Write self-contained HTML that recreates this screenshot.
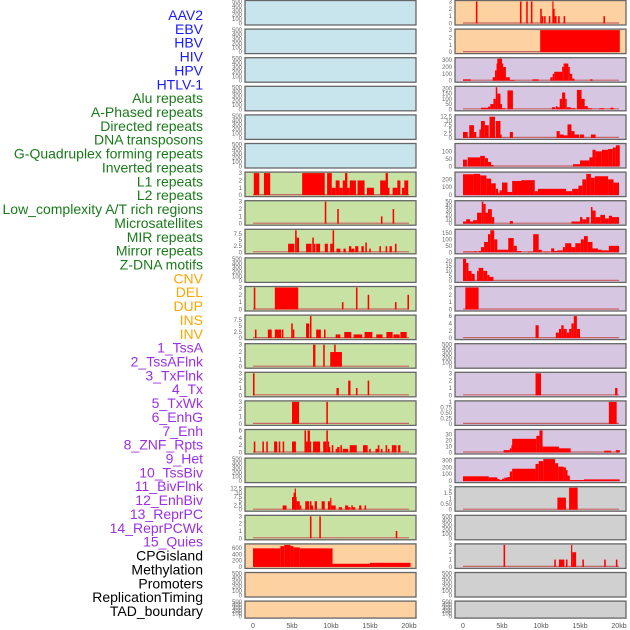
<!DOCTYPE html>
<html><head><meta charset="utf-8"><style>
html,body{margin:0;padding:0;background:#fff;width:630px;height:630px;overflow:hidden}
svg{display:block}
</style></head><body>
<svg id="chart" width="630" height="630" xmlns="http://www.w3.org/2000/svg" font-family="Liberation Sans, sans-serif"></svg>
<script>
// ---- data (segments: [startKb, endKb, value]) ----
const trackLabels = ["AAV2","EBV","HBV","HIV","HPV","HTLV-1","Alu repeats","A-Phased repeats","Directed repeats","DNA transposons","G-Quadruplex forming repeats","Inverted repeats","L1 repeats","L2 repeats","Low_complexity A/T rich regions","Microsatellites","MIR repeats","Mirror repeats","Z-DNA motifs","CNV","DEL","DUP","INS","INV","1_TssA","2_TssAFlnk","3_TxFlnk","4_Tx","5_TxWk","6_EnhG","7_Enh","8_ZNF_Rpts","9_Het","10_TssBiv","11_BivFlnk","12_EnhBiv","13_ReprPC","14_ReprPCWk","15_Quies","CPGisland","Methylation","Promoters","ReplicationTiming","TAD_boundary"];
const labelGroups = [6,13,5,15,5];
const xTickKb = [0,5,10,15,20];
const xTickLabels = ["0","5kb","10kb","15kb","20kb"];
const t500 = [0,100,200,300,400,500];
const t3 = [0,1,2,3];
const t75 = [0,2.5,5,7.5];
const t6 = [0,2,4,6];
const t125 = [0,2.5,5,7.5,10,12.5];

const L06 = [[0.1,0.8,3],[1.4,2.2,3],[6.3,9.2,3],[9.5,10.1,3],[10.1,10.6,1],[10.6,11.1,2],[11.1,11.5,1],[11.5,12.0,2],[11.8,12.1,3],[12.0,12.4,1],[12.4,13.2,2],[13.4,14.3,2],[14.6,15.5,1],[16.3,17.1,2],[17.0,17.3,3],[17.2,17.5,1],[17.9,18.5,1],[18.5,18.9,2],[19.1,19.4,1],[19.4,19.9,2]];
const L07 = [[9.2,9.4,3],[10.8,11.0,2],[16.4,16.6,1],[17.9,18.1,2]];
const L08 = [[4.5,5.3,3.5],[5.4,5.6,9],[5.6,5.9,6],[6.8,7.5,3.5],[7.6,7.8,6],[7.8,8.0,3.5],[8.1,8.6,3.5],[9.2,9.6,3.5],[9.9,10.2,3.5],[10.2,10.4,9],[10.7,11.2,1.5],[11.6,11.9,1.5],[12.3,12.6,2.5],[12.6,13.0,1.5],[13.1,13.5,2.5],[13.9,14.2,2.5],[14.4,14.6,4],[14.9,15.1,1.5],[16.2,16.4,2.5],[17.0,17.2,2.5],[17.5,17.8,2.5],[18.2,18.4,3.5]];
const L10 = [[0.1,0.3,3],[2.8,5.8,3],[11.4,11.6,1],[13.2,13.4,3],[14.7,14.9,2],[18.2,18.4,1],[19.8,20.0,2]];
const L11 = [[0.25,0.45,3.5],[1.9,2.4,3.5],[2.8,3.6,3.5],[3.7,3.9,3.5],[4.9,5.1,6],[5.1,5.3,3.5],[6.8,7.2,6],[7.3,7.5,9],[8.1,8.7,3.5],[9.1,9.3,3.5],[10.6,11.2,1.5],[11.7,12.6,2.5],[12.9,14.0,1.5],[14.3,15.3,2.5],[15.8,16.6,1.5],[17.1,17.9,2.5],[18.0,18.8,1.5],[18.9,19.7,2.5]];
const L12 = [[7.7,8.0,3],[9.0,9.2,3],[9.9,11.4,2],[10.4,10.6,3]];
const L13 = [[0.0,0.2,3],[10.7,11.0,1],[12.2,12.5,2],[13.2,13.4,1],[14.7,14.9,2]];
const L14 = [[5.0,5.9,3],[9.4,9.6,3]];
const L15 = [[0.1,0.3,3],[1.2,1.4,3],[1.7,1.9,3],[2.7,3.1,3],[3.3,3.5,3],[3.8,4.0,3],[5.0,5.5,3],[6.6,6.8,6],[6.8,7.0,3],[7.0,7.3,6],[7.3,7.4,3],[7.7,8.6,3],[9.0,9.4,3],[9.4,9.6,6],[9.6,9.7,3],[9.7,9.9,1.5],[10.1,10.3,2],[10.6,10.8,1],[10.8,11.1,1.5],[11.2,11.4,2],[11.5,12.2,1],[12.4,13.3,2],[14.1,14.7,2],[14.9,15.1,1],[15.7,16.2,1],[16.0,16.2,2],[16.4,16.6,1],[17.0,17.2,2],[17.3,17.5,1],[17.8,18.0,2],[18.0,18.4,2],[18.6,18.9,2]];
const L17 = [[3.8,4.3,2.5],[5.0,5.6,7.5],[5.2,5.5,10],[5.35,5.5,12.5],[5.6,6.0,5],[6.0,6.2,2.5],[6.7,7.2,5],[7.3,7.5,5],[7.5,7.7,2.5],[7.9,8.2,5],[8.8,9.2,5],[9.6,9.9,5],[9.9,10.05,7],[10.05,10.6,2.5],[11.0,11.4,1.5],[11.8,12.2,2.5],[12.2,12.5,1.5],[12.6,12.8,2.5],[12.8,13.1,1.5],[13.6,13.9,2.5],[14.3,14.5,2.5]];
const L18 = [[7.3,7.5,3],[8.5,8.7,3],[18.3,18.5,1]];
const L19 = [[0.0,3.5,590],[3.5,4.0,660],[4.0,4.8,700],[4.8,5.2,660],[5.2,6.0,620],[6.0,10.2,590],[10.2,15.0,100],[15.0,20.2,130]];

const R00 = [[1.65,1.85,3],[7.3,7.5,3],[8.1,8.3,3],[8.7,8.9,3],[9.9,10.1,2],[10.1,10.3,1],[10.4,10.6,1],[11.0,11.2,1],[11.45,11.6,3],[11.6,11.75,2],[11.75,12.0,1],[12.2,12.4,1],[12.9,13.1,1],[18.0,18.2,1]];
const R01 = [[9.9,20.1,3]];
const R02 = [[0.0,1.0,20],[3.8,4.1,50],[4.1,4.3,150],[4.3,4.4,250],[4.4,5.0,320],[5.0,5.1,250],[5.1,5.5,200],[5.5,6.0,50],[6.0,6.6,10],[8.9,9.7,20],[11.2,11.5,50],[11.5,11.7,100],[11.7,12.7,130],[12.7,12.9,200],[12.9,13.5,250],[13.5,13.7,200],[13.7,14.0,100],[14.0,14.3,30],[16.3,16.6,20]];
const R03 = [[2.3,3.2,15],[3.2,3.5,25],[3.5,3.9,50],[3.9,4.2,100],[4.2,4.4,210],[4.4,4.8,150],[4.8,5.0,50],[5.0,5.4,10],[5.7,6.4,180],[11.4,11.8,20],[11.9,12.1,30],[12.1,12.4,20],[12.4,12.7,100],[12.7,13.1,160],[13.1,13.3,100],[13.3,13.8,20],[13.8,14.4,10],[14.6,15.2,185],[15.2,15.6,100],[15.6,16.0,30],[16.0,16.5,10],[17.5,18.1,10],[18.9,19.3,15]];
const R04 = [[0.0,0.6,3.5],[0.8,1.4,7.5],[1.4,1.7,3.5],[2.1,2.3,5],[2.3,2.8,10],[2.8,3.3,7.5],[3.4,4.1,12.5],[4.2,4.8,10],[4.8,4.95,2],[6.0,6.4,3.5],[12.0,12.4,4],[12.4,12.9,2],[12.9,13.4,1.5],[13.4,13.9,8],[13.9,14.3,4],[14.3,14.9,2],[15.0,15.5,2],[16.4,17.0,2]];
const R05 = [[0.0,0.5,45],[0.6,2.2,60],[2.2,2.8,70],[2.8,3.2,55],[3.2,3.6,30],[3.6,3.9,10],[14.1,15.0,15],[15.0,16.2,40],[16.2,16.6,60],[16.6,17.0,110],[17.0,17.8,100],[17.8,18.6,110],[18.6,19.2,115],[19.2,19.6,125],[19.6,20.1,140]];
const R06 = [[0.0,1.4,265],[1.4,2.2,270],[2.2,3.0,250],[3.0,3.6,210],[3.6,4.2,150],[4.2,4.5,80],[4.5,4.7,30],[4.7,5.0,60],[5.0,5.7,160],[5.7,6.3,40],[6.3,7.5,180],[7.5,9.2,190],[9.2,9.6,50],[9.6,13.2,80],[13.2,14.0,50],[14.0,14.8,80],[14.8,15.3,120],[15.3,15.8,200],[15.8,16.4,270],[16.4,16.9,220],[16.9,18.6,240],[18.6,19.3,200],[19.3,20.0,160]];
const R07 = [[0.0,0.4,5],[0.4,0.9,10],[0.9,1.3,5],[1.3,1.8,8],[1.8,2.4,25],[2.4,2.6,50],[2.6,2.9,45],[2.9,3.2,25],[3.2,3.7,33],[3.7,4.0,15],[6.0,6.4,6],[13.9,15.0,5],[15.0,15.3,15],[15.3,15.8,10],[15.8,16.2,15],[16.4,16.6,38],[16.6,17.0,30],[17.0,17.6,15],[17.6,18.2,20],[18.2,18.7,12],[18.7,19.1,18],[19.1,20.0,15]];
const R08 = [[0.0,1.4,5],[1.4,1.8,8],[2.0,2.3,10],[2.3,2.7,40],[2.7,3.2,80],[3.2,3.5,140],[3.5,4.0,170],[4.0,4.4,100],[4.4,4.8,20],[4.8,5.8,20],[5.8,6.5,110],[6.5,6.9,50],[6.9,7.5,10],[8.3,9.0,5],[9.0,9.7,140],[9.7,10.1,20],[10.3,11.1,5],[11.3,11.7,30],[11.7,12.1,10],[12.1,12.8,15],[12.8,13.1,40],[13.1,13.9,70],[13.9,14.4,40],[14.4,15.1,70],[15.1,15.5,100],[15.5,16.0,125],[16.0,16.6,80],[16.6,17.3,30],[17.3,17.8,20],[17.8,18.7,15],[18.7,20.0,50]];
const R09 = [[0.0,0.4,22],[0.4,0.7,18],[0.7,1.1,10],[1.1,1.5,7],[1.8,2.0,10],[2.0,2.6,13],[2.6,3.1,10],[3.1,3.4,6],[3.4,3.9,4]];
const R10 = [[0.3,2.0,3]];
const R11 = [[9.3,9.7,3.5],[11.9,12.3,1.5],[12.3,12.6,2.5],[12.6,12.9,3.5],[12.9,13.3,2.5],[13.3,13.6,1.5],[13.6,13.9,2.5],[13.9,14.2,4],[14.2,14.6,6],[14.6,15.0,2.5]];
const R13 = [[9.3,10.0,3],[19.5,19.8,1]];
const R14 = [[18.7,19.7,1]];
const R15 = [[5.2,6.0,4],[6.0,6.2,7],[6.2,6.3,12],[6.3,9.4,23],[9.4,9.8,28],[9.8,10.2,37],[10.2,12.3,10],[12.3,13.8,7],[18.1,19.0,3],[19.6,20.1,4]];
const R16 = [[0.0,3.3,70],[3.3,4.4,55],[4.4,4.7,30],[4.7,5.0,15],[5.0,5.3,35],[5.3,5.7,50],[5.7,6.0,60],[6.0,6.3,140],[6.3,9.3,180],[9.3,9.7,250],[9.7,10.3,290],[10.3,11.8,320],[11.8,12.2,260],[12.2,12.9,210],[12.9,13.2,200],[13.2,13.4,160],[13.4,13.7,80],[13.7,15.5,15],[15.5,20.1,25]];
const R17 = [[12.1,13.2,1.1],[13.6,14.7,2]];
const R19 = [[5.2,5.4,3],[11.7,11.9,1],[12.3,13.0,1],[13.2,13.4,1],[13.85,14.0,3],[14.0,14.5,2],[15.3,15.5,1],[18.1,18.3,1],[19.6,19.8,1]];

const leftPanels = [
 ["#c8e4ec",t500,500,[]],["#c8e4ec",t500,500,[]],["#c8e4ec",t500,500,[]],["#c8e4ec",t500,500,[]],["#c8e4ec",t500,500,[]],["#c8e4ec",t500,500,[]],
 ["#c8e2a4",t3,3,L06],["#c8e2a4",t3,3,L07],["#c8e2a4",t75,9,L08],["#c8e2a4",t500,500,[]],["#c8e2a4",t3,3,L10],["#c8e2a4",t75,9,L11],
 ["#c8e2a4",t3,3,L12],["#c8e2a4",t3,3,L13],["#c8e2a4",t3,3,L14],["#c8e2a4",t6,6,L15],["#c8e2a4",t500,500,[]],["#c8e2a4",t125,13,L17],
 ["#c8e2a4",t3,3,L18],["#fed1a0",[0,200,400,600],700,L19],["#fed1a0",t500,500,[]],["#fed1a0",t500,500,[]]
];
const rightPanels = [
 ["#fed1a0",t3,3,R00],["#fed1a0",t3,3,R01],["#d6c6e2",[0,100,200,300],320,R02],["#d6c6e2",[0,50,100,150,200],210,R03],
 ["#d6c6e2",t125,13,R04],["#d6c6e2",[0,50,100],145,R05],["#d6c6e2",[0,100,200],280,R06],["#d6c6e2",[0,10,20,30,40,50],50,R07],
 ["#d6c6e2",[0,50,100,150],170,R08],["#d6c6e2",[0,5,10,15,20],22,R09],["#d6c6e2",t3,3,R10],["#d6c6e2",t6,6,R11],
 ["#d6c6e2",t500,500,[]],["#d6c6e2",t3,3,R13],["#d6c6e2",[0,0.25,0.5,0.75,1.0],1,R14],["#d6c6e2",[0,10,20,30],37,R15],
 ["#d6c6e2",[0,100,200,300],320,R16],["#d0d0d0",[0,0.5,1.0,1.5,2.0],2,R17],["#d0d0d0",t500,500,[]],["#d0d0d0",t3,3,R19],
 ["#d0d0d0",t500,500,[]],["#d0d0d0",t500,500,[]]
];

// ---- drawing ----
const NS="http://www.w3.org/2000/svg";
const svg=document.getElementById('chart');
function mk(tag,attrs,parent){const e=document.createElementNS(NS,tag);for(const k in attrs)e.setAttribute(k,attrs[k]);(parent||svg).appendChild(e);return e;}
const groupColors=["#1a1aff","#1a7a1a","#ffa500","#9b30e6","#000000"];
let gi=0,gc=0;
trackLabels.forEach((t,i)=>{
  while(gc>=labelGroups[gi]){gi++;gc=0;}
  gc++;
  const e=mk('text',{x:203,y:15+i*13.86+5,'text-anchor':'end','font-size':'14',fill:groupColors[gi]});
  e.textContent=t;
  
  
});
function fmt(v){if(Number.isInteger(v))return String(v);return v.toFixed(Math.abs(v)<1?2:1);}
function drawCol(panels,boxX,x0,colName){
  const x1=x0+156;
  const xs=kb=>x0+(kb/20)*(x1-x0);
  panels.forEach((p,i)=>{
    const [bg,ticks,max,segs]=p;
    const top=0.5+i*28.6, h=(i===panels.length-1)?17:24.5;
    const g=mk('g',{});
    
    
    const r=mk('rect',{x:boxX,y:top,width:171,height:h,fill:bg,stroke:'#666',"stroke-width":1.3},g);
    
    
    const yb=top+h-1.5, yt=top+1;
    const ys=v=>yb-(v/max)*(yb-yt);
    ticks.forEach(tv=>{
      const tt=mk('text',{x:boxX-3,y:ys(tv)+2,'text-anchor':'end','font-size':'6',fill:'#666'},g);
      tt.textContent=fmt(tv);
      
      
    });
    if(segs.length){
      const bl=mk('line',{x1:xs(0),x2:xs(20),y1:yb-0.5,y2:yb-0.5,stroke:'#c86464','stroke-width':1.2},g);
      
      
    }
    segs.forEach(s=>{
      const b=mk('rect',{x:xs(s[0]),y:ys(s[2]),width:Math.max(1.2,xs(s[1])-xs(s[0])),height:yb-ys(s[2]),fill:'#ff0000'},g);
      
      
    });
  });
  xTickKb.forEach((k,j)=>{
    const t=mk('text',{x:xs(k),y:628,'text-anchor':'middle','font-size':'7',fill:'#555'});
    t.textContent=xTickLabels[j];
    
    
  });
}
drawCol(leftPanels,245,253,'left');
drawCol(rightPanels,455,463,'right');
</script>
</body></html>
